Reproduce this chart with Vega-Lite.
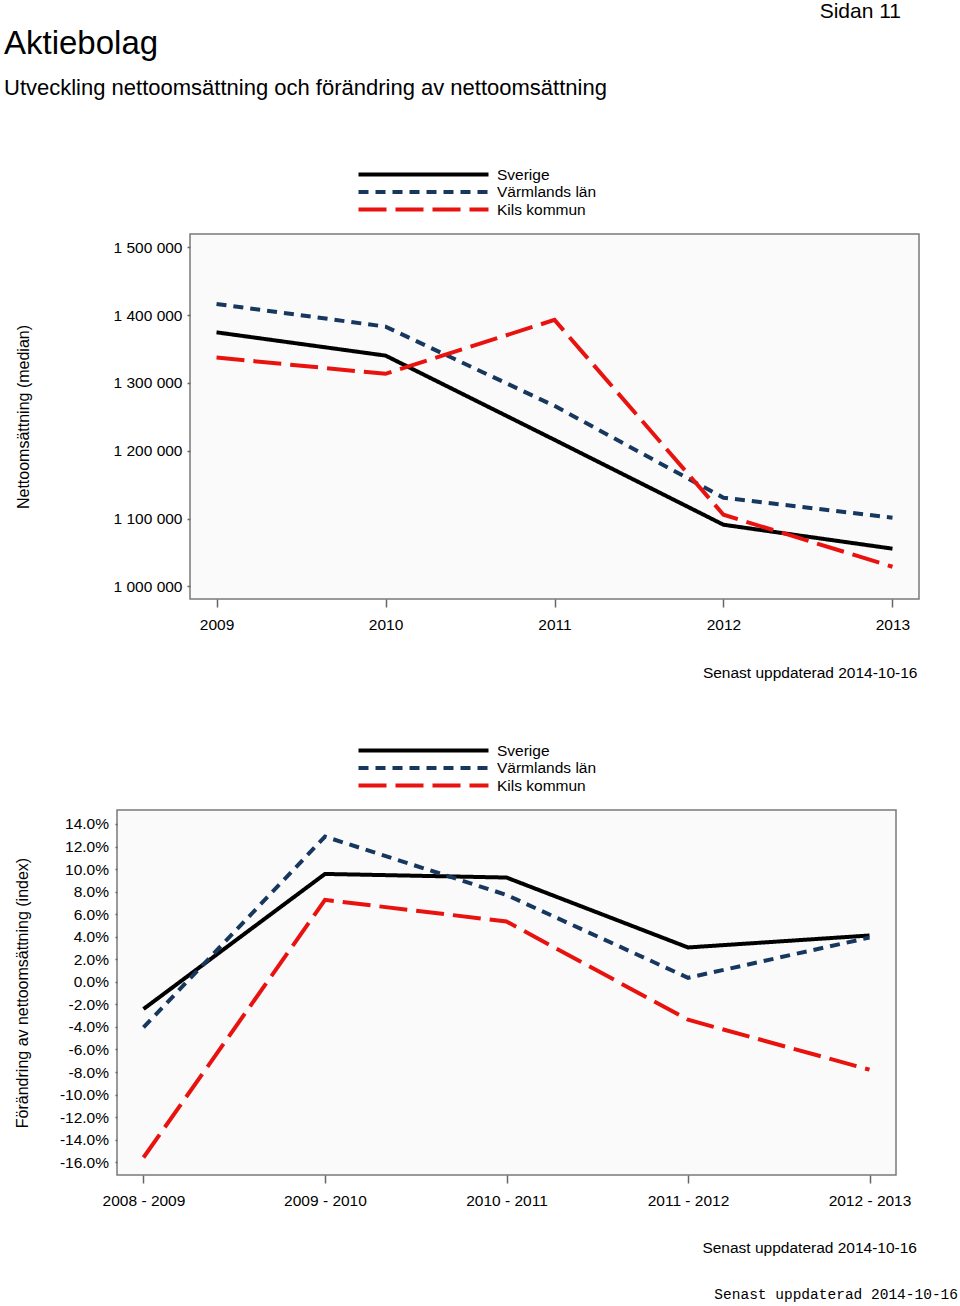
{
  "$schema": "https://vega.github.io/schema/vega-lite/v6.json",
  "background": "white",
  "padding": {"left": 4, "top": 0, "right": 0, "bottom": 0},
  "title": {
    "text": "Aktiebolag",
    "subtitle": "Utveckling nettoomsättning och förändring av nettoomsättning",
    "anchor": "start",
    "font": "Liberation Sans",
    "fontSize": 33,
    "fontWeight": "normal",
    "color": "#000000",
    "subtitleFont": "Liberation Sans",
    "subtitleFontSize": 22,
    "subtitleColor": "#000000",
    "subtitlePadding": 17,
    "offset": 0,
    "dy": 99
  },
  "config": {
    "font": "Liberation Sans",
    "view": {"fill": "#fafafa", "stroke": "#7a7a7a", "strokeWidth": 1.5},
    "axis": {
      "labelFont": "Liberation Sans",
      "labelFontSize": 15.5,
      "labelColor": "#000000",
      "titleFont": "Liberation Sans",
      "titleFontSize": 16,
      "titleFontWeight": "normal",
      "titleColor": "#000000",
      "grid": false,
      "domain": false,
      "tickColor": "#666666",
      "tickWidth": 1.5
    },
    "legend": {
      "title": null,
      "orient": "none",
      "direction": "vertical",
      "symbolType": "M0,0L20,0",
      "symbolSize": 169,
      "symbolStrokeWidth": 4,
      "labelFont": "Liberation Sans",
      "labelFontSize": 15.5,
      "labelColor": "#000000",
      "labelOffset": 130,
      "rowPadding": 0.5
    },
    "line": {"strokeWidth": 4, "strokeCap": "butt"}
  },
  "datasets": {
    "none": [],
    "net": [
      {"year": "2009", "region": "Sverige", "value": 1374600},
      {"year": "2010", "region": "Sverige", "value": 1340300},
      {"year": "2011", "region": "Sverige", "value": 1216100},
      {"year": "2012", "region": "Sverige", "value": 1090900},
      {"year": "2013", "region": "Sverige", "value": 1055600},
      {"year": "2009", "region": "Värmlands län", "value": 1416500},
      {"year": "2010", "region": "Värmlands län", "value": 1383000},
      {"year": "2011", "region": "Värmlands län", "value": 1266200},
      {"year": "2012", "region": "Värmlands län", "value": 1130700},
      {"year": "2013", "region": "Värmlands län", "value": 1101300},
      {"year": "2009", "region": "Kils kommun", "value": 1337400},
      {"year": "2010", "region": "Kils kommun", "value": 1313400},
      {"year": "2011", "region": "Kils kommun", "value": 1392900},
      {"year": "2012", "region": "Kils kommun", "value": 1105600},
      {"year": "2013", "region": "Kils kommun", "value": 1029000}
    ],
    "chg": [
      {"period": "2008 - 2009", "region": "Sverige", "value": -2.41},
      {"period": "2009 - 2010", "region": "Sverige", "value": 9.57},
      {"period": "2010 - 2011", "region": "Sverige", "value": 9.25},
      {"period": "2011 - 2012", "region": "Sverige", "value": 3.05},
      {"period": "2012 - 2013", "region": "Sverige", "value": 4.11},
      {"period": "2008 - 2009", "region": "Värmlands län", "value": -4.04},
      {"period": "2009 - 2010", "region": "Värmlands län", "value": 12.88},
      {"period": "2010 - 2011", "region": "Värmlands län", "value": 7.71},
      {"period": "2011 - 2012", "region": "Värmlands län", "value": 0.36},
      {"period": "2012 - 2013", "region": "Värmlands län", "value": 3.93},
      {"period": "2008 - 2009", "region": "Kils kommun", "value": -15.58},
      {"period": "2009 - 2010", "region": "Kils kommun", "value": 7.27},
      {"period": "2010 - 2011", "region": "Kils kommun", "value": 5.35},
      {"period": "2011 - 2012", "region": "Kils kommun", "value": -3.36},
      {"period": "2012 - 2013", "region": "Kils kommun", "value": -7.79}
    ]
  },
  "spacing": 60,
  "vconcat": [
    {
      "spacing": 0,
      "hconcat": [
        {
          "width": 10,
          "height": 1,
          "data": {"name": "none"},
          "mark": {"type": "rect"},
          "encoding": {},
          "view": {"stroke": null, "fill": null}
        },
        {
          "width": 729,
          "height": 365,
          "data": {"name": "net"},
          "title": {
            "text": "Sidan 11",
            "anchor": "end",
            "frame": "group",
            "font": "Liberation Sans",
            "fontSize": 21,
            "fontWeight": "normal",
            "color": "#000000",
            "dx": -18,
            "offset": 212
          },
          "mark": {"type": "line"},
          "encoding": {
            "x": {
              "field": "year",
              "type": "ordinal",
              "sort": null,
              "scale": {"type": "point", "padding": 0.157},
              "axis": {
                "labelAngle": 0,
                "tickSize": 8,
                "labelPadding": 10,
                "title": "Senast uppdaterad 2014-10-16",
                "titleFontSize": 15.5,
                "titleX": 727,
                "titleAlign": "right",
                "titlePadding": 33
              }
            },
            "y": {
              "field": "value",
              "type": "quantitative",
              "scale": {"domain": [981400, 1519600], "nice": false, "zero": false},
              "axis": {
                "values": [1000000, 1100000, 1200000, 1300000, 1400000, 1500000],
                "labelExpr": "replace(replace(format(datum.value, ','), ',', ' '), ',', ' ')",
                "tickSize": 3,
                "labelPadding": 5,
                "title": "Nettoomsättning (median)",
                "titlePadding": 82
              }
            },
            "color": {
              "field": "region",
              "type": "nominal",
              "scale": {"domain": ["Sverige", "Värmlands län", "Kils kommun"], "range": ["#000000", "#17375e", "#e8120f"]},
              "legend": {"legendX": 346, "legendY": -68}
            },
            "strokeDash": {
              "field": "region",
              "type": "nominal",
              "scale": {"domain": ["Sverige", "Värmlands län", "Kils kommun"], "range": [[1, 0], [10, 7], [28, 9]]},
              "legend": {"legendX": 346, "legendY": -68}
            }
          }
        }
      ]
    },
    {
      "spacing": 0,
      "hconcat": [
        {
          "width": 10,
          "height": 1,
          "data": {"name": "none"},
          "mark": {"type": "rect"},
          "encoding": {},
          "view": {"stroke": null, "fill": null}
        },
        {
          "width": 779,
          "height": 365,
          "data": {"name": "chg"},
          "title": {
            "text": "Senast uppdaterad 2014-10-16",
            "orient": "bottom",
            "anchor": "end",
            "frame": "group",
            "font": "Liberation Mono",
            "fontSize": 14.5,
            "fontWeight": "normal",
            "color": "#000000",
            "dx": 62,
            "offset": 32
          },
          "mark": {"type": "line"},
          "encoding": {
            "x": {
              "field": "period",
              "type": "ordinal",
              "sort": null,
              "scale": {"type": "point", "padding": 0.146},
              "axis": {
                "labelAngle": 0,
                "tickSize": 8,
                "labelPadding": 10,
                "title": "Senast uppdaterad 2014-10-16",
                "titleFontSize": 15.5,
                "titleX": 799.5,
                "titleAlign": "right",
                "titlePadding": 32
              }
            },
            "y": {
              "field": "value",
              "type": "quantitative",
              "scale": {"domain": [-17.13, 15.24], "nice": false, "zero": false},
              "axis": {
                "values": [-16, -14, -12, -10, -8, -6, -4, -2, 0, 2, 4, 6, 8, 10, 12, 14],
                "labelExpr": "replace(format(datum.value, '.1f'), '−', '-') + '%'",
                "tickSize": 2,
                "labelPadding": 6.5,
                "title": "Förändring av nettoomsättning (index)",
                "titlePadding": 28.5
              }
            },
            "color": {
              "field": "region",
              "type": "nominal",
              "scale": {"domain": ["Sverige", "Värmlands län", "Kils kommun"], "range": ["#000000", "#17375e", "#e8120f"]},
              "legend": {"legendX": 346, "legendY": -68}
            },
            "strokeDash": {
              "field": "region",
              "type": "nominal",
              "scale": {"domain": ["Sverige", "Värmlands län", "Kils kommun"], "range": [[1, 0], [10, 7], [28, 9]]},
              "legend": {"legendX": 346, "legendY": -68}
            }
          }
        }
      ]
    }
  ],
  "resolve": {"scale": {"color": "independent", "strokeDash": "independent", "x": "independent", "y": "independent"}}
}
